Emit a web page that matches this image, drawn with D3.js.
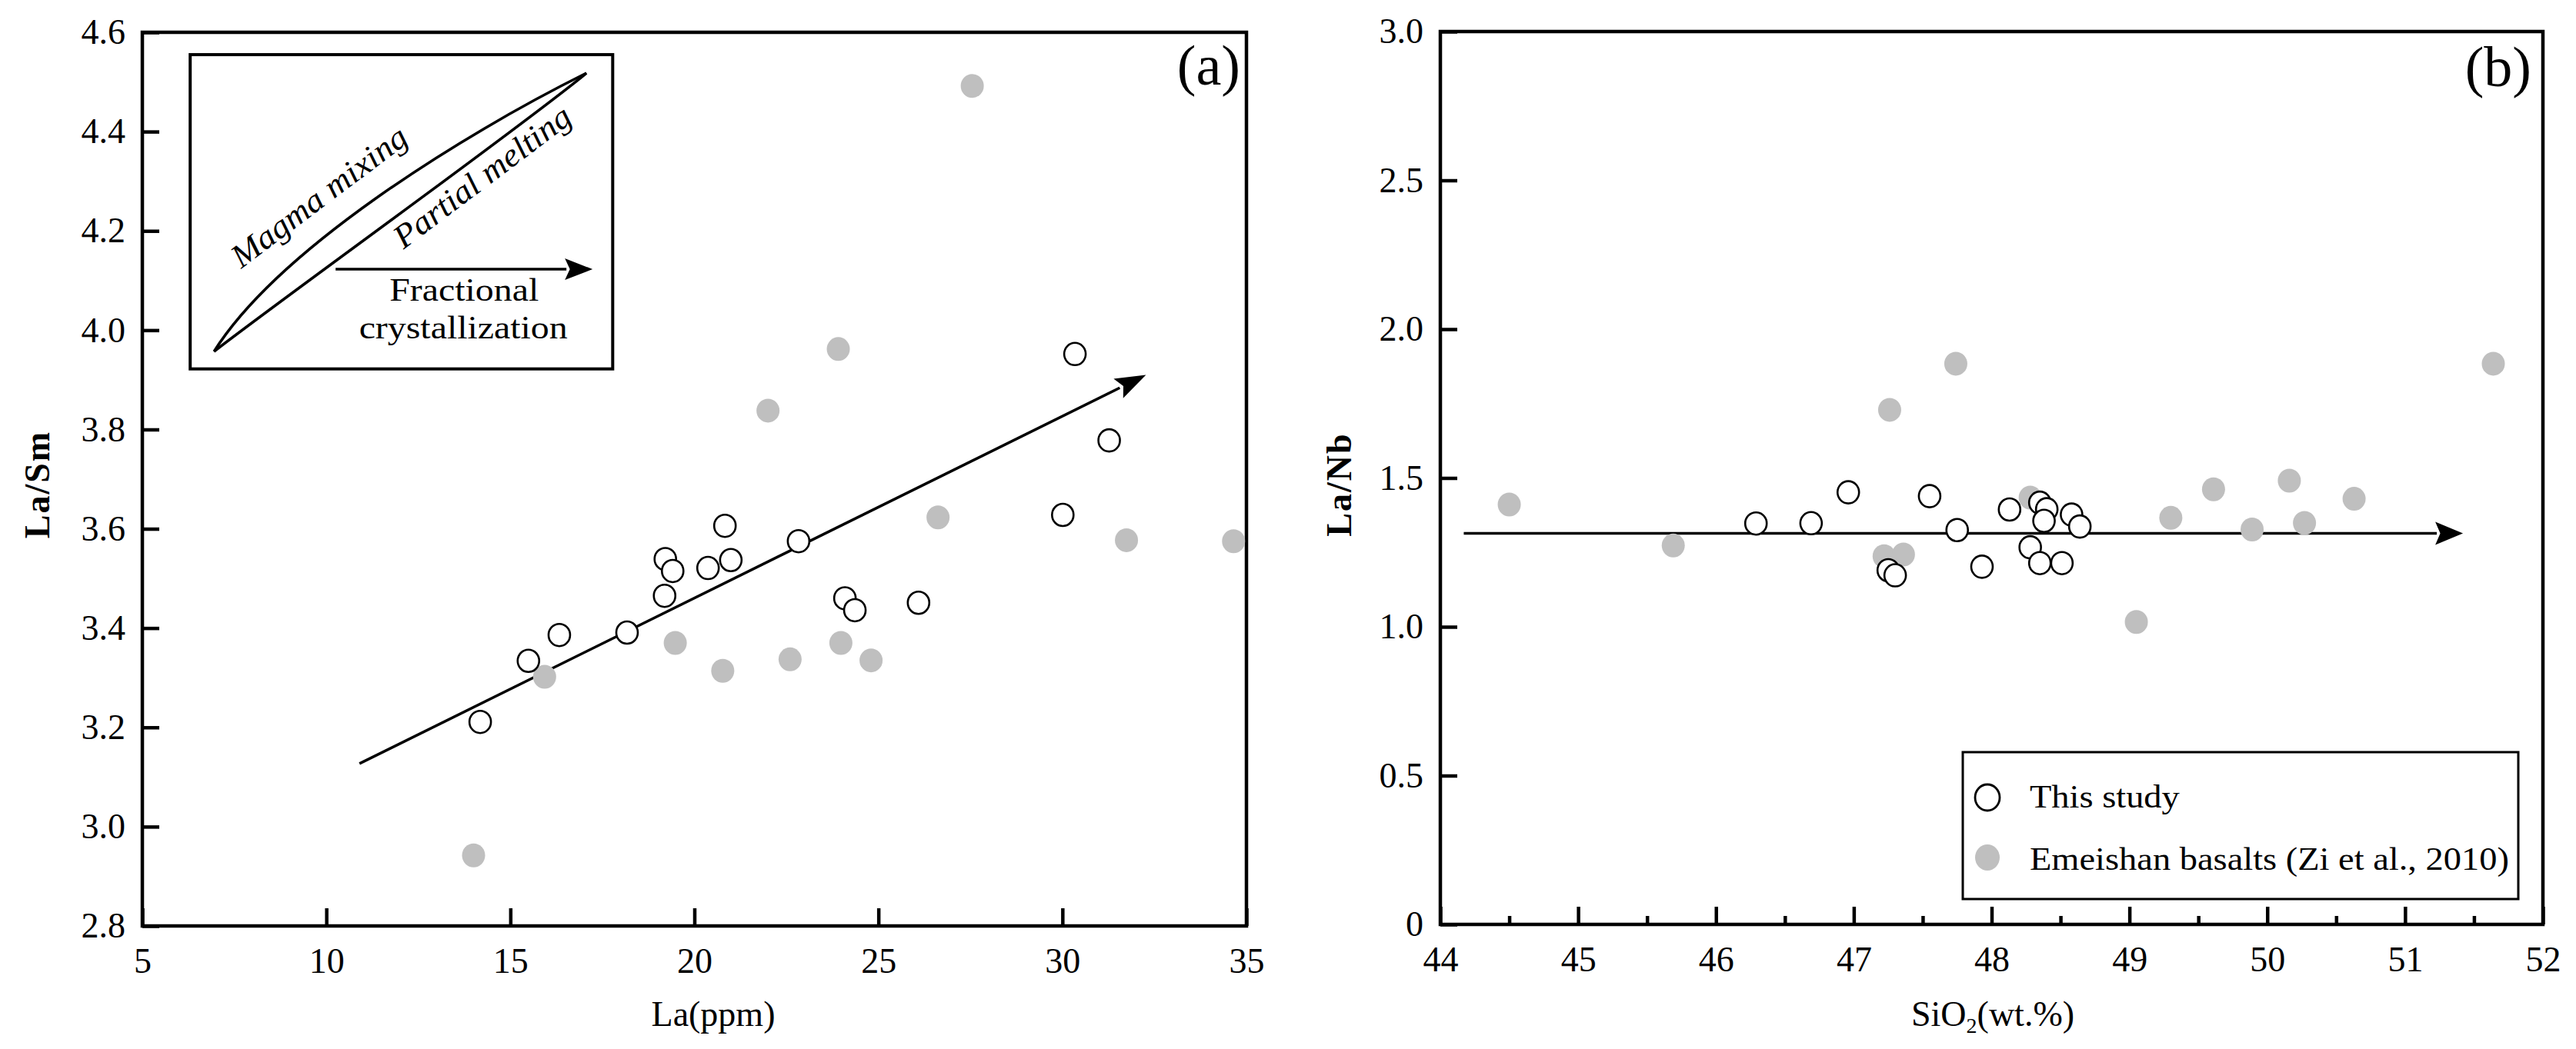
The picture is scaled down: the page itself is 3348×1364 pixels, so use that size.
<!DOCTYPE html>
<html><head><meta charset="utf-8">
<script src="https://cdn.jsdelivr.net/npm/d3@7"></script>
<style>
body{margin:0;background:#fff;}
svg, svg text{font-family:"Liberation Serif","Times New Roman",serif;fill:#000;}
</style></head><body>
<svg id="chart" width="3348" height="1364" font-family="Liberation Serif"></svg>
<script>
// ---------- Panel (a): La (ppm) vs La/Sm ----------
const laStudy   = [14.18,15.49,16.33,18.17,19.19,19.21,19.41,20.37,20.83,20.99,22.83,24.09,24.36,26.09,30.01,30.34,31.27];
const laSmStudy = [3.211,3.334,3.386,3.391,3.465,3.539,3.515,3.521,3.606,3.537,3.575,3.460,3.436,3.451,3.628,3.952,3.778];
const laEmei    = [27.55,23.91,22.00,26.62,31.74,34.65,19.48,23.98,22.60,24.80,20.77,15.93,14.00];
const laSmEmei  = [4.492,3.962,3.838,3.623,3.577,3.575,3.370,3.370,3.337,3.335,3.314,3.302,2.942];
const trendA    = [[10.9,3.127],[32.27,3.910]];
const xTicksA   = [5,10,15,20,25,30,35];
const yTicksA   = [2.8,3.0,3.2,3.4,3.6,3.8,4.0,4.2,4.4,4.6];
const insetBoxA = [[6.30,4.555],[17.78,3.922]];

// ---------- Panel (b): SiO2 vs La/Nb ----------
const sioStudy  = [46.29,46.69,46.96,47.55,47.75,48.13,48.35,48.40,48.38,48.58,48.64,48.28,48.35,48.51,47.93,47.25,47.30];
const laNbStudy = [1.347,1.348,1.452,1.439,1.325,1.394,1.417,1.395,1.356,1.377,1.337,1.267,1.214,1.214,1.202,1.190,1.173];
const sioEmei   = [44.50,45.69,47.22,47.36,47.26,47.74,48.28,49.05,49.30,49.61,49.89,50.16,50.27,50.63,51.64];
const laNbEmei  = [1.411,1.273,1.237,1.243,1.729,1.884,1.434,1.016,1.366,1.462,1.327,1.491,1.349,1.430,1.884];
const trendB    = [[44.17,1.314],[51.42,1.314]];
const xTicksB   = [44,45,46,47,48,49,50,51,52];
const xMinorB   = [44.5,45.5,46.5,47.5,48.5,49.5,50.5,51.5];
const yTicksB   = [0,0.5,1.0,1.5,2.0,2.5,3.0];

const legendLabels = ["This study","Emeishan basalts (Zi et al., 2010)"];

const GRAY = "#bfbfbf";
const FONT = "'Liberation Serif','Times New Roman',serif";
const svg = d3.select("#chart");

const xA = d3.scaleLinear().domain([5,35]).range([185,1620]);
const yA = d3.scaleLinear().domain([2.8,4.6]).range([1204,42]);
const xB = d3.scaleLinear().domain([44,52]).range([1872,3305]);
const yB = d3.scaleLinear().domain([0,3]).range([1202,41]);

function styleAxis(g){
  g.attr("font-family","Liberation Serif").attr("font-size",46);
  g.select(".domain").remove();
  g.selectAll(".tick line").attr("stroke","#000").attr("stroke-width",4.5);
  g.selectAll(".tick text").attr("font-size",46).attr("fill","#000")
   .attr("font-family","Liberation Serif").style("font-family",FONT);
}

function axes(x, y, xt, yt, yfmt, xminor){
  const g = svg.append("g");
  const y0 = y.range()[0];
  g.append("g").attr("transform",`translate(0,${y0})`)
    .call(d3.axisBottom(x).tickValues(xt).tickSize(-23).tickPadding(28).tickFormat(d3.format("d")))
    .call(styleAxis);
  if (xminor){
    g.append("g").attr("transform",`translate(0,${y0})`)
      .call(d3.axisBottom(x).tickValues(xminor).tickSize(-11).tickFormat(""))
      .call(styleAxis);
  }
  g.append("g").attr("transform",`translate(${x.range()[0]},0)`)
    .call(d3.axisLeft(y).tickValues(yt).tickSize(-22).tickPadding(22).tickFormat(yfmt))
    .call(styleAxis);
  g.append("rect")
    .attr("x",x.range()[0]).attr("y",y.range()[1])
    .attr("width",x.range()[1]-x.range()[0]).attr("height",y.range()[0]-y.range()[1])
    .attr("fill","none").attr("stroke","#000").attr("stroke-width",4.5);
}

function stext(parent, str, x, y, size, opts={}){
  const t = parent.append("text")
    .attr("transform",`translate(${x},${y}) rotate(${opts.rot||0}) scale(${opts.sx||1},1)`)
    .attr("font-size",size)
    .attr("font-family","Liberation Serif")
    .attr("text-anchor",opts.anchor||"middle")
    .style("font-family",FONT)
    .style("font-style",opts.italic?"italic":"normal")
    .style("font-weight",opts.bold?"bold":"normal")
    .text(str);
  if (opts.ls) t.style("letter-spacing",opts.ls+"px");
  return t;
}

function arrow(x1,y1,x2,y2,len,half,sw){
  const a = Math.atan2(y2-y1,x2-x1);
  const bx = x2 - len*Math.cos(a), by = y2 - len*Math.sin(a);
  svg.append("line").attr("x1",x1).attr("y1",y1).attr("x2",bx+2*Math.cos(a)).attr("y2",by+2*Math.sin(a))
    .attr("stroke","#000").attr("stroke-width",sw);
  const px = -Math.sin(a), py = Math.cos(a);
  svg.append("path")
    .attr("d",`M${x2},${y2}L${bx+half*px},${by+half*py}L${bx+len*0.18*Math.cos(a)},${by+len*0.18*Math.sin(a)}L${bx-half*px},${by-half*py}Z`)
    .attr("fill","#000");
}

function points(x, y, xs, ys, open){
  svg.append("g").selectAll("ellipse").data(xs.map((d,i)=>[d,ys[i]])).join("ellipse")
    .attr("cx",d=>x(d[0])).attr("cy",d=>y(d[1]))
    .attr("rx",open?14:15).attr("ry",open?14.5:15.5)
    .attr("fill",open?"#fff":GRAY)
    .attr("stroke",open?"#000":"none").attr("stroke-width",2.6);
}

// ----- Panel a -----
axes(xA, yA, xTicksA, yTicksA, d3.format(".1f"));
arrow(xA(trendA[0][0]),yA(trendA[0][1]),xA(trendA[1][0]),yA(trendA[1][1]),40,14,3.5);
points(xA,yA,laEmei,laSmEmei,false);
points(xA,yA,laStudy,laSmStudy,true);

// inset schematic
{
  const bx = xA(insetBoxA[0][0]), by = yA(insetBoxA[0][1]);
  const bw = xA(insetBoxA[1][0]) - bx, bh = yA(insetBoxA[1][1]) - by;
  const g = svg.append("g").attr("transform",`translate(${bx},${by})`);
  g.append("rect").attr("width",bw).attr("height",bh).attr("fill","#fff")
    .attr("stroke","#000").attr("stroke-width",4);
  const p0=[31,386], p3=[515,24];
  g.append("path").attr("d",`M${p0}C114,254 350,106 ${p3}`).attr("fill","none").attr("stroke","#000").attr("stroke-width",3.5);
  g.append("path").attr("d",`M${p0}C113,322 433,92 ${p3}`).attr("fill","none").attr("stroke","#000").attr("stroke-width",3.5);
  stext(g,"Magma mixing",176,196,43,{rot:-37,sx:1.06,italic:true});
  stext(g,"Partial melting",388,170,43,{rot:-37,sx:1.06,italic:true});
  stext(g,"Fractional",356,320,42,{sx:1.14});
  stext(g,"crystallization",355,369,42,{sx:1.14});
  const ax1 = bx+189, ax2 = bx+523, ay = by+279;
  arrow(ax1,ay,ax2,ay,36,14,3.5);
}
stext(svg,"(a)",1612,110,74,{anchor:"end"});
stext(svg,"La(ppm)",927,1334,46);
stext(svg,"La/Sm",64,630,46,{rot:-90,bold:true,ls:2});

// ----- Panel b -----
axes(xB, yB, xTicksB, yTicksB, d=>d===0?"0":d3.format(".1f")(d), xMinorB);
arrow(xB(trendB[0][0]),yB(trendB[0][1]),xB(trendB[1][0]),yB(trendB[1][1]),36,15,3.5);
points(xB,yB,sioEmei,laNbEmei,false);
points(xB,yB,sioStudy,laNbStudy,true);
stext(svg,"(b)",3290,112,74,{anchor:"end"});
{
  const t = stext(svg,"",2590,1334,46);
  t.text(null);
  t.append("tspan").text("SiO");
  t.append("tspan").attr("font-size",28).attr("dy",9).text("2");
  t.append("tspan").attr("dy",-9).text("(wt.%)");
}
stext(svg,"La/Nb",1756,630,46,{rot:-90,bold:true,ls:2});

// legend
{
  const g = svg.append("g");
  g.append("rect").attr("x",2551).attr("y",978).attr("width",722).attr("height",191)
    .attr("fill","#fff").attr("stroke","#000").attr("stroke-width",3);
  g.append("ellipse").attr("cx",2583).attr("cy",1037).attr("rx",16).attr("ry",17)
    .attr("fill","#fff").attr("stroke","#000").attr("stroke-width",2.8);
  g.append("ellipse").attr("cx",2583).attr("cy",1115).attr("rx",16).attr("ry",17).attr("fill",GRAY);
  stext(g,legendLabels[0],2638,1050,43,{anchor:"start",sx:1.08});
  stext(g,legendLabels[1],2638,1131,43,{anchor:"start",sx:1.08});
}
</script>
</body></html>
